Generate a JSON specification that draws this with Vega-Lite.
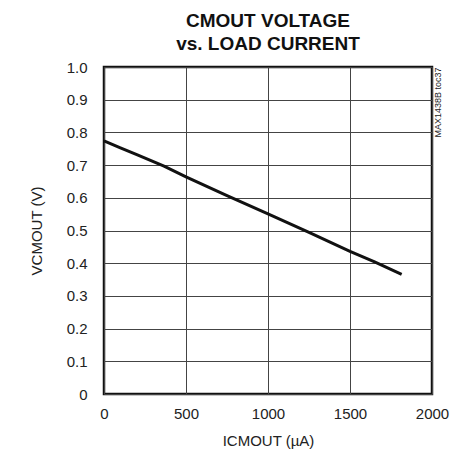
{
  "$schema": "https://vega.github.io/schema/vega-lite/v6.json",
  "autosize": "none",
  "width": 328,
  "height": 327,
  "padding": {"left": 104, "top": 67, "right": 18, "bottom": 63},
  "background": "white",
  "title": {
    "text": ["CMOUT VOLTAGE", "vs. LOAD CURRENT"],
    "font": "Liberation Sans",
    "fontSize": 19,
    "fontWeight": "bold",
    "color": "#111",
    "anchor": "middle",
    "offset": 6,
    "lineHeight": 23
  },
  "config": {
    "view": {"stroke": "#111", "strokeWidth": 2.5},
    "axis": {
      "labelFont": "Liberation Sans",
      "titleFont": "Liberation Sans",
      "labelFontSize": 15,
      "titleFontSize": 15,
      "titleFontWeight": "normal",
      "labelColor": "#222",
      "titleColor": "#222",
      "gridColor": "#444",
      "gridWidth": 1,
      "gridOpacity": 1,
      "domain": false,
      "ticks": false
    }
  },
  "data": {
    "values": [
      {"i": 0, "v": 0.774},
      {"i": 100, "v": 0.753},
      {"i": 200, "v": 0.732},
      {"i": 366, "v": 0.697},
      {"i": 500, "v": 0.664},
      {"i": 750, "v": 0.607},
      {"i": 1000, "v": 0.551},
      {"i": 1250, "v": 0.494},
      {"i": 1500, "v": 0.436},
      {"i": 1650, "v": 0.404},
      {"i": 1815, "v": 0.366}
    ]
  },
  "layer": [
    {
      "mark": {"type": "line", "color": "#111", "strokeWidth": 3},
      "encoding": {
        "x": {
          "field": "i", "type": "quantitative",
          "scale": {"domain": [0, 2000], "nice": false},
          "axis": {"values": [0, 500, 1000, 1500, 2000], "format": "d", "labelPadding": 12, "title": "ICMOUT (µA)", "titlePadding": 12, "labelFlush": false}
        },
        "y": {
          "field": "v", "type": "quantitative",
          "scale": {"domain": [0, 1], "nice": false},
          "axis": {"values": [0, 0.1, 0.2, 0.3, 0.4, 0.5, 0.6, 0.7, 0.8, 0.9, 1.0], "labelExpr": "datum.value == 0 ? '0' : format(datum.value, '.1f')", "labelPadding": 17, "title": "VCMOUT (V)", "titlePadding": 22, "labelFlush": false}
        }
      }
    },
    {
      "mark": {"type": "rule", "opacity": 0},
      "encoding": {
        "y": {
          "datum": 0.5, "type": "quantitative",
          "scale": {"domain": [0, 1], "nice": false},
          "axis": {"orient": "right", "labels": false, "grid": false, "title": "MAX1438B toc37", "titleFontSize": 9, "titleAngle": 270, "titleAnchor": "end", "titlePadding": 1, "titleBaseline": "top"}
        }
      }
    }
  ],
  "resolve": {"scale": {"y": "independent"}, "axis": {"y": "independent"}}
}
